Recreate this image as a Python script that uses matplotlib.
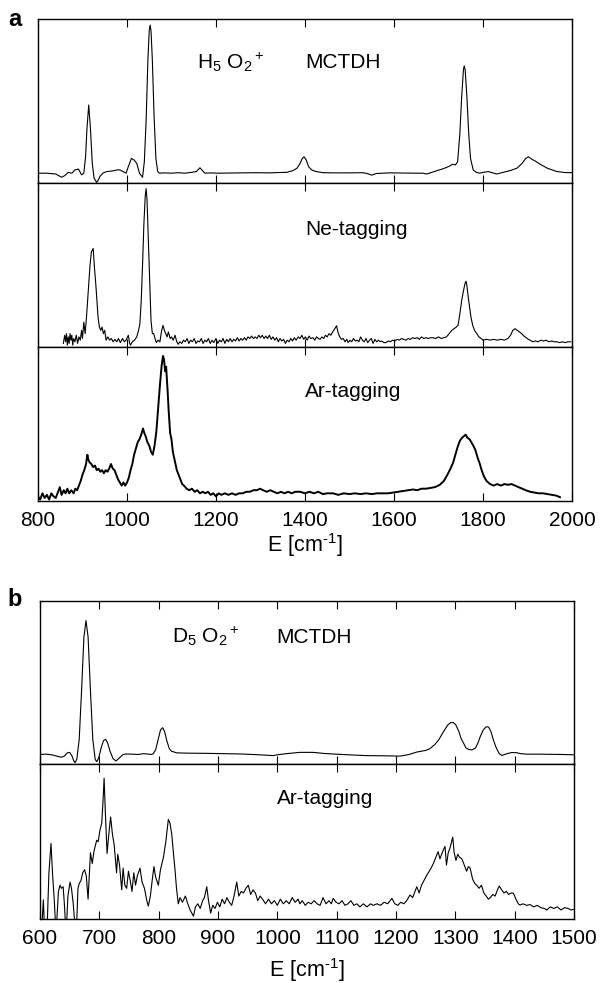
import numpy as np
import matplotlib
matplotlib.use("Agg")
import matplotlib.pyplot as plt

plt.rcParams['font.family'] = ['Liberation Sans', 'DejaVu Sans']
plt.rcParams['mathtext.fontset'] = 'custom'
plt.rcParams['mathtext.rm'] = 'Liberation Sans'
plt.rcParams['mathtext.it'] = 'Liberation Sans:italic'
plt.rcParams['mathtext.default'] = 'regular'

# ---- panel a: H5O2+ (intensities as fraction of sub-panel height) ----
h_mctdh_E = [800, 820, 840, 853, 860, 868, 876, 883, 891, 898, 903, 907, 910, 914, 918, 922, 926,
             932, 936, 939, 946, 954, 962, 970, 978, 984, 991, 998, 1003, 1010, 1016, 1022, 1028,
             1035, 1039, 1043, 1047, 1050, 1052, 1054, 1057, 1061, 1065, 1069, 1073, 1085, 1100,
             1115, 1130, 1145, 1156, 1164, 1170, 1175, 1190, 1201, 1230, 1260, 1290, 1320, 1340,
             1359, 1372, 1382, 1389, 1394, 1398, 1403, 1408, 1415, 1425, 1441, 1470, 1500, 1530,
             1540, 1550, 1560, 1590, 1620, 1650, 1665, 1673, 1685, 1696, 1708, 1718, 1726, 1732,
             1738, 1743, 1748, 1752, 1756, 1758, 1760, 1764, 1768, 1772, 1778, 1785, 1793, 1800,
             1812, 1822, 1831, 1845, 1860, 1876, 1888, 1896, 1902, 1910, 1920, 1928, 1945, 1966,
             1985, 2000]
h_mctdh_I = [0.06, 0.06, 0.055, 0.035, 0.045, 0.065, 0.06, 0.08, 0.085, 0.05, 0.06, 0.16, 0.33,
             0.476, 0.33, 0.12, 0.03, 0.004, 0.02, 0.04, 0.06, 0.07, 0.072, 0.075, 0.08, 0.08,
             0.07, 0.06, 0.1, 0.15, 0.14, 0.12, 0.06, 0.035, 0.13, 0.38, 0.75, 0.93, 0.963, 0.93,
             0.75, 0.4, 0.15, 0.07, 0.06, 0.062, 0.06, 0.063, 0.06, 0.065, 0.07, 0.093, 0.075,
             0.06, 0.062, 0.06, 0.061, 0.062, 0.063, 0.062, 0.064, 0.065, 0.075, 0.09, 0.12, 0.15,
             0.16, 0.14, 0.1, 0.08, 0.07, 0.063, 0.062, 0.062, 0.063, 0.058, 0.048, 0.058, 0.062,
             0.061, 0.06, 0.06, 0.055, 0.065, 0.075, 0.085, 0.095, 0.105, 0.115, 0.11, 0.13, 0.3,
             0.52, 0.69, 0.715, 0.69, 0.52, 0.3, 0.15, 0.08, 0.065, 0.06, 0.065, 0.07, 0.062, 0.055,
             0.065, 0.075, 0.09, 0.12, 0.15, 0.16, 0.145, 0.13, 0.115, 0.09, 0.07, 0.064, 0.063]

ne_E = [857, 860, 862, 864, 866, 868, 870, 872, 874, 876, 878, 880, 883, 886, 889, 892, 895, 898,
        900, 903, 906, 909, 913, 917, 920, 924, 927, 930, 932, 935, 938, 941, 944, 947, 950, 953,
        957, 961, 965, 969, 973, 977, 981, 985, 990, 994, 998, 1003, 1006, 1008, 1012, 1017, 1022,
        1026, 1029, 1032, 1035, 1038, 1041, 1043, 1045, 1048, 1051, 1054, 1057, 1060, 1063, 1066,
        1070, 1074, 1078, 1081, 1084, 1087, 1090, 1093, 1097, 1100, 1104, 1108, 1112, 1115, 1119,
        1123, 1127, 1131, 1135, 1139, 1143, 1147, 1151, 1155, 1159, 1163, 1167, 1171, 1175, 1179,
        1183, 1187, 1191, 1195, 1200, 1204, 1208, 1212, 1216, 1220, 1224, 1228, 1232, 1236, 1240,
        1244, 1248, 1252, 1256, 1260, 1264, 1268, 1272, 1276, 1280, 1284, 1288, 1292, 1296, 1300,
        1304, 1308, 1312, 1316, 1320, 1324, 1328, 1332, 1336, 1340, 1344, 1348, 1352, 1356, 1360,
        1364, 1368, 1372, 1376, 1380, 1385, 1389, 1393, 1397, 1401, 1405, 1409, 1413, 1418, 1422,
        1426, 1430, 1434, 1438, 1442, 1446, 1450, 1454, 1458, 1462, 1467, 1471, 1474, 1478, 1482,
        1486, 1490, 1494, 1497, 1501, 1505, 1509, 1513, 1517, 1521, 1525, 1529, 1533, 1537, 1541,
        1545, 1549, 1553, 1557, 1561, 1565, 1569, 1573, 1577, 1582, 1587, 1592, 1597, 1602, 1607,
        1612, 1617, 1622, 1627, 1632, 1637, 1642, 1647, 1652, 1657, 1662, 1667, 1672, 1677, 1682,
        1688, 1694, 1700, 1706, 1712, 1718, 1724, 1730, 1735, 1740, 1744, 1748, 1752, 1756, 1760,
        1762, 1764, 1767, 1770, 1773, 1777, 1781, 1786, 1791, 1796, 1800, 1808, 1816, 1824, 1832,
        1840, 1848, 1856, 1862, 1867, 1872, 1877, 1882, 1887, 1892, 1897, 1902, 1906, 1912, 1918,
        1924, 1930, 1936, 1942, 1948, 1954, 1960, 1966, 1972, 1978, 1985, 1991, 1997]
ne_I = [0.02, 0.07, 0.03, 0.08, 0.01, 0.06, 0.02, 0.08, 0.04, 0.07, 0.01, 0.05, 0.03, 0.07, 0.02,
        0.06, 0.04, 0.1, 0.05, 0.15, 0.08, 0.18, 0.34, 0.5, 0.58, 0.6, 0.48, 0.38, 0.3, 0.18,
        0.12, 0.1, 0.12, 0.08, 0.1, 0.04, 0.06, 0.04, 0.05, 0.03, 0.045, 0.03, 0.05, 0.025, 0.05,
        0.03, 0.04, 0.07, 0.02, 0.01, 0.03, 0.04, 0.06, 0.1, 0.14, 0.28, 0.5, 0.75, 0.92, 0.966,
        0.9, 0.65, 0.38, 0.16, 0.08, 0.08, 0.05, 0.025, 0.04, 0.03, 0.1, 0.13, 0.1, 0.08, 0.06,
        0.09, 0.05, 0.06, 0.04, 0.07, 0.03, 0.015, 0.03, 0.02, 0.04, 0.03, 0.05, 0.02, 0.04, 0.03,
        0.05, 0.02, 0.035, 0.03, 0.05, 0.02, 0.04, 0.03, 0.05, 0.02, 0.04, 0.025, 0.05, 0.02, 0.04,
        0.03, 0.05, 0.02, 0.045, 0.03, 0.05, 0.03, 0.045, 0.035, 0.055, 0.035, 0.05, 0.04, 0.055,
        0.04, 0.06, 0.05, 0.065, 0.05, 0.06, 0.05, 0.07, 0.055, 0.07, 0.05, 0.065, 0.05, 0.07,
        0.045, 0.06, 0.04, 0.055, 0.03, 0.05, 0.035, 0.045, 0.02, 0.04, 0.03, 0.05, 0.035, 0.055,
        0.04, 0.06, 0.05, 0.07, 0.045, 0.06, 0.04, 0.065, 0.05, 0.055, 0.04, 0.06, 0.05, 0.045,
        0.06, 0.05, 0.07, 0.06, 0.08, 0.07, 0.09, 0.11, 0.128, 0.09, 0.06, 0.045, 0.05, 0.03,
        0.045, 0.025, 0.04, 0.03, 0.05, 0.035, 0.04, 0.03, 0.06, 0.04, 0.03, 0.05, 0.025, 0.04,
        0.05, 0.02, 0.045, 0.03, 0.04, 0.03, 0.035, 0.025, 0.025, 0.035, 0.03, 0.04, 0.035, 0.045,
        0.04, 0.05, 0.045, 0.04, 0.05, 0.045, 0.055, 0.05, 0.055, 0.045, 0.06, 0.05, 0.055, 0.05,
        0.055, 0.055, 0.05, 0.06, 0.05, 0.055, 0.06, 0.08, 0.1, 0.11, 0.12, 0.13, 0.2, 0.28, 0.34,
        0.39, 0.4, 0.37, 0.3, 0.24, 0.18, 0.13, 0.1, 0.08, 0.06, 0.05, 0.04, 0.045, 0.04, 0.045,
        0.04, 0.045, 0.04, 0.05, 0.07, 0.1, 0.11, 0.1, 0.09, 0.08, 0.065, 0.055, 0.045, 0.04, 0.03,
        0.035, 0.03, 0.04, 0.035, 0.04, 0.03, 0.035, 0.03, 0.03, 0.025, 0.03, 0.025, 0.03, 0.03]

ar_h_E = [800, 805, 810, 815, 820, 825, 830, 835, 840, 845, 849, 853, 858, 862, 866, 870, 875, 880,
          884, 888, 892, 896, 900, 904, 908, 911, 913, 916, 920, 924, 928, 932, 936, 940, 944, 948,
          952, 956, 960, 964, 968, 972, 976, 980, 984, 988, 992, 996, 1000, 1004, 1008, 1012, 1016,
          1020, 1024, 1028, 1032, 1036, 1039, 1042, 1046, 1050, 1054, 1058, 1062, 1066, 1070, 1074,
          1078, 1081, 1083, 1086, 1088, 1091, 1094, 1097, 1100, 1103, 1106, 1109, 1112, 1116, 1120,
          1124, 1128, 1134, 1140, 1146, 1152, 1158, 1164, 1170, 1176, 1182, 1188, 1194, 1200, 1206,
          1212, 1220, 1228, 1236, 1244, 1252, 1260, 1268, 1276, 1284, 1292, 1299, 1306, 1314, 1322,
          1330, 1338, 1346, 1354, 1362, 1370, 1378, 1389, 1400, 1410, 1420, 1430, 1440, 1450, 1463,
          1475, 1487, 1500, 1512, 1525, 1537, 1550, 1562, 1575, 1587, 1598, 1610, 1620, 1632, 1643,
          1652, 1662, 1672, 1682, 1692, 1703, 1712, 1720, 1727, 1733, 1738, 1743, 1748, 1753, 1757,
          1761, 1765, 1770, 1774, 1778, 1783, 1788, 1793, 1797, 1802, 1808, 1816, 1824, 1832, 1840,
          1848, 1856, 1864, 1872, 1880, 1888, 1896, 1906, 1915, 1925, 1935, 1945, 1955, 1965, 1973]
ar_h_I = [0.03, 0.01, 0.05, 0.02, 0.04, 0.01, 0.05, 0.03, 0.02, 0.06, 0.09, 0.04, 0.07, 0.05, 0.08,
          0.05, 0.07, 0.05, 0.08, 0.07, 0.1, 0.13, 0.17, 0.2, 0.24, 0.3, 0.27, 0.25, 0.24, 0.22,
          0.23, 0.2, 0.21, 0.19, 0.2, 0.18, 0.2, 0.19, 0.21, 0.24, 0.21, 0.2, 0.17, 0.14, 0.12,
          0.1, 0.12, 0.1, 0.12, 0.15, 0.2, 0.24, 0.3, 0.34, 0.38, 0.4, 0.43, 0.47, 0.44, 0.42,
          0.38, 0.36, 0.32, 0.3, 0.36, 0.45, 0.6, 0.75, 0.88, 0.94, 0.92, 0.84, 0.87, 0.73, 0.57,
          0.44, 0.4, 0.32, 0.28, 0.24, 0.2, 0.17, 0.14, 0.11, 0.1, 0.08, 0.07, 0.08, 0.06, 0.07,
          0.05, 0.06, 0.05, 0.06, 0.04, 0.05, 0.03, 0.05, 0.04, 0.05, 0.04, 0.05, 0.04, 0.05, 0.05,
          0.06, 0.06, 0.07, 0.07, 0.08, 0.07, 0.06, 0.07, 0.06, 0.05, 0.06, 0.05, 0.06, 0.05, 0.06,
          0.06, 0.05, 0.06, 0.05, 0.06, 0.045, 0.05, 0.05, 0.04, 0.05, 0.045, 0.05, 0.045, 0.05,
          0.045, 0.05, 0.05, 0.05, 0.055, 0.06, 0.065, 0.07, 0.075, 0.07, 0.08, 0.08, 0.085, 0.09,
          0.105, 0.13, 0.17, 0.21, 0.25, 0.3, 0.35, 0.39, 0.41, 0.42, 0.43, 0.41, 0.4, 0.38, 0.36,
          0.33, 0.28, 0.24, 0.2, 0.16, 0.13, 0.11, 0.1, 0.11, 0.1, 0.11, 0.105, 0.11, 0.1, 0.09,
          0.08, 0.07, 0.06, 0.055, 0.05, 0.05, 0.045, 0.04, 0.035, 0.025]

# ---- panel b: D5O2+ ----
d_mctdh_E = [600, 610, 620, 628, 636, 641, 646, 650, 654, 657, 659, 662, 666, 670, 674, 677.5, 681,
             685, 689, 693, 695.6, 699, 703, 707, 710.7, 714, 718, 723, 728, 734, 740, 746, 755,
             765, 775, 783, 788, 791, 795, 799, 803, 806.7, 810, 814, 818, 822, 824.7, 830, 850,
             880, 910, 940, 970, 985, 993, 1000, 1015, 1038, 1060, 1080, 1094, 1120, 1151, 1180,
             1207, 1222, 1235, 1250, 1257, 1265, 1272, 1280, 1287, 1292, 1297, 1301, 1306, 1310,
             1314, 1318, 1323, 1328, 1334, 1338, 1342, 1347, 1352, 1356, 1360, 1364, 1369, 1374,
             1378, 1381, 1387, 1395, 1403, 1410, 1420, 1440, 1460, 1480, 1499]
d_mctdh_I = [0.06, 0.062, 0.058, 0.05, 0.043, 0.05, 0.07, 0.073, 0.05, 0.02, 0.01, 0.03, 0.15,
             0.45, 0.78, 0.88, 0.78, 0.45, 0.15, 0.03, 0.016, 0.04, 0.1, 0.145, 0.153, 0.13, 0.08,
             0.035, 0.02, 0.04, 0.06, 0.063, 0.062, 0.06, 0.065, 0.062, 0.06, 0.065, 0.09, 0.15,
             0.21, 0.224, 0.2, 0.14, 0.095, 0.078, 0.077, 0.07, 0.068, 0.067, 0.065, 0.063, 0.058,
             0.055, 0.053, 0.058, 0.065, 0.073, 0.073, 0.066, 0.063, 0.058, 0.053, 0.052, 0.05,
             0.06, 0.075, 0.085, 0.095, 0.12, 0.15, 0.2, 0.24, 0.255, 0.255, 0.24, 0.2, 0.155,
             0.128, 0.1, 0.09, 0.088, 0.1, 0.13, 0.17, 0.21, 0.23, 0.228, 0.2, 0.15, 0.1, 0.065,
             0.055, 0.057, 0.065, 0.072, 0.071, 0.065, 0.062, 0.062, 0.061, 0.06, 0.058]

ar_d_E = [600, 603, 605.6, 608, 612, 615, 618.5, 621, 624, 627, 631, 633.7, 636, 639, 641, 644, 647,
          650.6, 653, 656, 659, 661, 664, 666, 669, 672, 675, 678, 681, 685, 688, 691, 695.5, 698,
          701, 704, 706, 708, 710, 713, 716, 719, 722, 725, 729, 731, 734, 737.7, 740, 743, 746,
          749, 752, 755, 758, 761, 764, 768.5, 772, 776, 780, 782.5, 786, 789, 792, 795, 799.4,
          803, 808, 812, 816.3, 819, 822, 825, 827.5, 830, 833, 836, 840, 845, 849, 853, 858.6,
          862, 866, 870, 874, 877, 881, 884, 887.6, 891, 895, 899, 903, 907, 911, 915, 919, 923,
          927, 931.5, 935, 939, 943, 947, 951, 955, 959, 963, 967, 971, 976, 980, 985, 990, 995,
          1000, 1005, 1010, 1015, 1020, 1025, 1030, 1035, 1038, 1042, 1047, 1052, 1057, 1062, 1067,
          1072, 1077, 1082, 1087, 1091, 1094, 1099, 1104, 1109, 1114, 1119, 1124, 1129, 1134,
          1139, 1145, 1151, 1157, 1162, 1168, 1174, 1180, 1186, 1193, 1198, 1203, 1208, 1213,
          1218, 1223.6, 1228, 1232, 1235, 1239, 1243, 1247, 1252, 1256, 1259, 1263, 1267, 1271,
          1274, 1277, 1280, 1282.6, 1285, 1288, 1291, 1293, 1295.6, 1298, 1301, 1304, 1307, 1311,
          1315, 1319, 1322, 1325, 1329, 1333, 1336, 1340, 1344, 1348, 1352, 1355.6, 1359, 1363,
          1367, 1371, 1374, 1378, 1382, 1386, 1390, 1394, 1398, 1402, 1406, 1409, 1414, 1420,
          1426, 1432, 1438, 1444, 1450, 1454, 1460, 1466, 1472, 1478, 1484, 1490, 1495, 1500]
ar_d_I = [0.0, -0.05, 0.125, -0.1, -0.05, 0.3, 0.49, 0.3, 0.125, -0.1, 0.18, 0.22, 0.2, 0.21, 0.1,
          -0.1, 0.15, 0.24, 0.2, 0.1, -0.05, -0.1, 0.2, 0.23, 0.25, 0.3, 0.32, 0.28, 0.13, 0.43,
          0.36, 0.44, 0.51, 0.5, 0.575, 0.62, 0.75, 0.91, 0.7, 0.425, 0.55, 0.66, 0.55, 0.48, 0.3,
          0.42, 0.35, 0.19, 0.33, 0.22, 0.2, 0.31, 0.25, 0.18, 0.3, 0.22, 0.28, 0.33, 0.24, 0.2,
          0.12, 0.085, 0.15, 0.25, 0.34, 0.27, 0.22, 0.32, 0.4, 0.5, 0.645, 0.62, 0.55, 0.42, 0.32,
          0.2, 0.1, 0.14, 0.11, 0.15, 0.1, 0.06, 0.02, 0.08, 0.1, 0.07, 0.12, 0.14, 0.21, 0.12,
          0.04, 0.09, 0.07, 0.11, 0.08, 0.13, 0.1, 0.14, 0.11, 0.09, 0.15, 0.24, 0.15, 0.18, 0.17,
          0.2, 0.22, 0.16, 0.19, 0.17, 0.12, 0.15, 0.125, 0.1, 0.13, 0.1, 0.12, 0.09, 0.13, 0.1,
          0.12, 0.1, 0.14, 0.11, 0.13, 0.1, 0.12, 0.09, 0.11, 0.1, 0.12, 0.1, 0.09, 0.14, 0.1,
          0.12, 0.1, 0.135, 0.11, 0.1, 0.12, 0.09, 0.1, 0.12, 0.09, 0.1, 0.08, 0.1, 0.08, 0.1, 0.09,
          0.1, 0.09, 0.11, 0.1, 0.135, 0.1, 0.09, 0.11, 0.1, 0.12, 0.157, 0.14, 0.18, 0.21, 0.17,
          0.22, 0.25, 0.286, 0.31, 0.33, 0.36, 0.4, 0.436, 0.39, 0.42, 0.45, 0.47, 0.35, 0.43,
          0.46, 0.49, 0.53, 0.43, 0.38, 0.42, 0.4, 0.39, 0.35, 0.31, 0.34, 0.33, 0.26, 0.23, 0.22,
          0.2, 0.22, 0.17, 0.15, 0.13, 0.14, 0.16, 0.15, 0.19, 0.215, 0.19, 0.17, 0.18, 0.16, 0.17,
          0.168, 0.13, 0.1, 0.092, 0.1, 0.09, 0.095, 0.08, 0.09, 0.075, 0.07, 0.06, 0.08, 0.07,
          0.08, 0.06, 0.075, 0.07, 0.06, 0.065]

a_ticks = [800, 1000, 1200, 1400, 1600, 1800, 2000]
b_ticks = [600, 700, 800, 900, 1000, 1100, 1200, 1300, 1400, 1500]
xlabel = r'E [cm$^{\text{-}1}$]'


def style(ax, xlim, ticks, show_labels):
    ax.set_xlim(xlim)
    ax.set_ylim(0, 1)
    ax.set_xticks(ticks)
    ax.set_yticks([])
    ax.tick_params(axis='x', direction='in', top=True, bottom=True, length=5.5, width=0.8,
                   labelsize=15, pad=7, labelbottom=show_labels)
    for s in ax.spines.values():
        s.set_linewidth(1.0)


fig = plt.figure(figsize=(6, 9.83), dpi=100)

# panel a
axa1 = fig.add_axes([0.0633, 0.8138, 0.89, 0.1668])
axa2 = fig.add_axes([0.0633, 0.6473, 0.89, 0.1665])
axa3 = fig.add_axes([0.0633, 0.4903, 0.89, 0.1570])
axa1.plot(h_mctdh_E, h_mctdh_I, color='black', lw=0.8)
axa2.plot(ne_E, ne_I, color='black', lw=0.8)
axa3.plot(ar_h_E, ar_h_I, color='black', lw=1.4)
for ax in (axa1, axa2, axa3):
    style(ax, (800, 2000), a_ticks, ax is axa3)
axa3.set_xlabel(xlabel, fontsize=15.5, labelpad=1)
axa1.text(0.298, 0.70, 'H$_5$ O$_2$$^+$', transform=axa1.transAxes, fontsize=15, va='baseline')
axa1.text(0.50, 0.70, 'MCTDH', transform=axa1.transAxes, fontsize=15, va='baseline')
axa2.text(0.50, 0.68, 'Ne-tagging', transform=axa2.transAxes, fontsize=15, va='baseline')
axa3.text(0.50, 0.676, 'Ar-tagging', transform=axa3.transAxes, fontsize=15, va='baseline')

# panel b
axb1 = fig.add_axes([0.0667, 0.2225, 0.89, 0.1661])
axb2 = fig.add_axes([0.0667, 0.0648, 0.89, 0.1577])
axb1.plot(d_mctdh_E, d_mctdh_I, color='black', lw=0.8)
axb2.plot(ar_d_E, ar_d_I, color='black', lw=0.8)
for ax in (axb1, axb2):
    style(ax, (600, 1500), b_ticks, ax is axb2)
axb2.set_xlabel(xlabel, fontsize=15.5, labelpad=6)
axb1.text(0.247, 0.743, 'D$_5$ O$_2$$^+$', transform=axb1.transAxes, fontsize=15, va='baseline')
axb1.text(0.443, 0.743, 'MCTDH', transform=axb1.transAxes, fontsize=15, va='baseline')
axb2.text(0.443, 0.744, 'Ar-tagging', transform=axb2.transAxes, fontsize=15, va='baseline')

fig.text(0.013, 1 - 8 / 983, 'a', fontsize=17, fontweight='bold', va='top')
fig.text(0.013, 1 - 588 / 983, 'b', fontsize=17, fontweight='bold', va='top')

fig.savefig('out.png', dpi=100)
